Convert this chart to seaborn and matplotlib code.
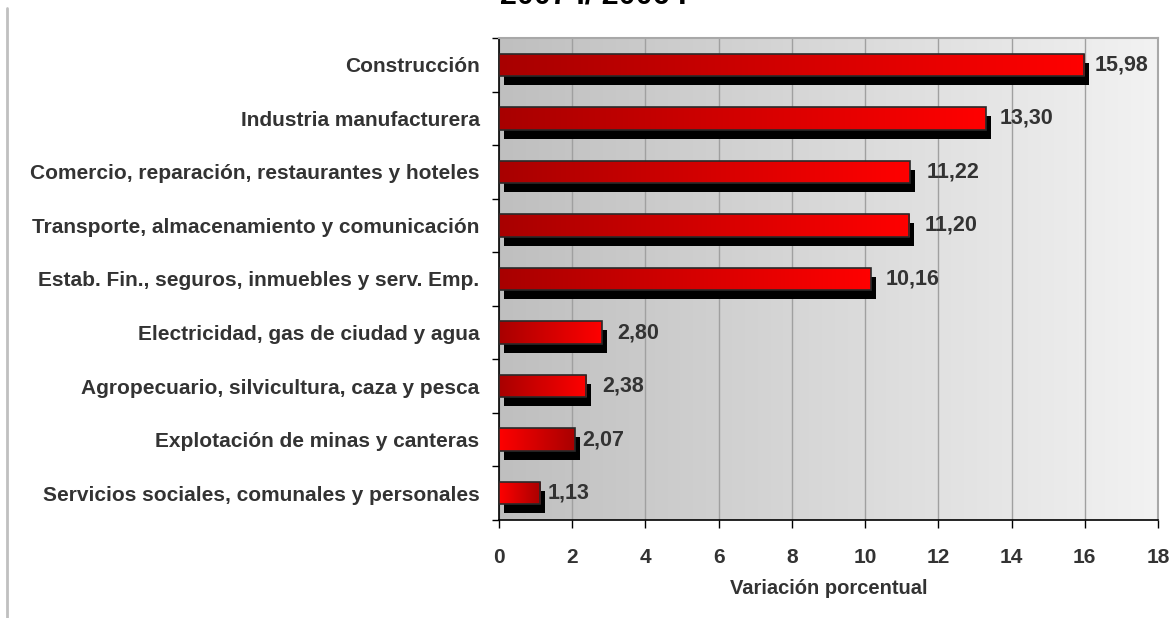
import numpy as np
import pandas as pd
import matplotlib
matplotlib.use("Agg")
import matplotlib.pyplot as plt
import seaborn as sns
from matplotlib.transforms import ScaledTranslation
from matplotlib.colors import LinearSegmentedColormap
from matplotlib.lines import Line2D

# ---- data ----
categories = [
    "Construcción",
    "Industria manufacturera",
    "Comercio, reparación, restaurantes y hoteles",
    "Transporte, almacenamiento y comunicación",
    "Estab. Fin., seguros, inmuebles y serv. Emp.",
    "Electricidad, gas de ciudad y agua",
    "Agropecuario, silvicultura, caza y pesca",
    "Explotación de minas y canteras",
    "Servicios sociales, comunales y personales",
]
values = [15.98, 13.30, 11.22, 11.20, 10.16, 2.80, 2.38, 2.07, 1.13]
value_labels = ["15,98", "13,30", "11,22", "11,20", "10,16", "2,80", "2,38", "2,07", "1,13"]
xticks = [0, 2, 4, 6, 8, 10, 12, 14, 16, 18]
title_text = "2007 I/ 2006 I"
xlabel_text = "Variación porcentual"

# ---- style ----
reverse_gradient = [False, False, False, False, False, False, False, True, True]
label_pad_px = [11, 14, 17, 16, 15, 16, 16, 7, 7]

sns.set_theme(style="white")
plt.rcParams['font.family'] = ['Liberation Sans', 'DejaVu Sans']

df = pd.DataFrame({"cat": categories, "val": values})

W, H = 1175, 618
fig = plt.figure(figsize=(W / 100, H / 100), dpi=100)
left, right, top, bottom = 499 / W, 1158 / W, 1 - 38 / H, 1 - 520 / H
ax = fig.add_axes([left, bottom, right - left, top - bottom])

# background gradient
bg_cmap = LinearSegmentedColormap.from_list("bg", ["#bfbfbf", "#f2f2f2"])
ax.imshow(np.linspace(0, 1, 256).reshape(1, -1), cmap=bg_cmap, aspect="auto",
          extent=[0, 18, len(categories) - 0.5, -0.5], zorder=0)

# shadow bars
n0 = len(ax.patches)
sns.barplot(data=df, x="val", y="cat", orient="h", width=0.42, color="black",
            saturation=1, ax=ax, zorder=2)
shadow = ax.patches[n0:]
off = ScaledTranslation(5 / 100, -9 / 100, fig.dpi_scale_trans)
for p in shadow:
    p.set_facecolor("black")
    p.set_edgecolor("black")
    p.set_linewidth(0)
    p.set_transform(ax.transData + off)

# main bars
n1 = len(ax.patches)
sns.barplot(data=df, x="val", y="cat", orient="h", width=0.42, color="red",
            saturation=1, ax=ax, zorder=3)
bars = ax.patches[n1:]
bar_cmap = LinearSegmentedColormap.from_list("bar", ["#a80000", "#ff0000"])
grad = np.linspace(0, 1, 256).reshape(1, -1)
for p, rev in zip(bars, reverse_gradient):
    x0, y0 = p.get_x(), p.get_y()
    w, h = p.get_width(), p.get_height()
    g = grad[:, ::-1] if rev else grad
    im = ax.imshow(g, cmap=bar_cmap, aspect="auto",
                   extent=[x0, x0 + w, y0 + h, y0], zorder=3.5)
    im.set_clip_path(p)
    p.set_facecolor("none")
    p.set_edgecolor("#2a2a2a")
    p.set_linewidth(1.2)
    p.set_zorder(4)

ax.set_xlim(0, 18)
ax.set_ylim(len(categories) - 0.5, -0.5)

# value labels
for i, (v, lbl, pad) in enumerate(zip(values, value_labels, label_pad_px)):
    ax.annotate(lbl, xy=(v, i), xytext=(pad * 0.72, 0), textcoords="offset points",
                ha="left", va="center", fontsize=15.5, fontweight="bold",
                color="#333333", zorder=5)

# grid and spines
ax.set_axisbelow(True)
ax.set_xticks(xticks)
ax.xaxis.grid(True, color="#a0a0a0", linewidth=1)
ax.yaxis.grid(False)
for s in ["left", "bottom"]:
    ax.spines[s].set_color("black")
    ax.spines[s].set_linewidth(1.2)
for s in ["top", "right"]:
    ax.spines[s].set_color("#a8a8a8")
    ax.spines[s].set_linewidth(1.5)

ax.tick_params(axis="x", which="major", direction="out", length=6, width=1,
               color="black", pad=14, labelsize=15, labelcolor="#333333", bottom=True)
ax.set_yticks(np.arange(len(categories) + 1) - 0.5, minor=True)
ax.tick_params(axis="y", which="major", length=0, pad=14, labelsize=15,
               labelcolor="#333333", left=True)
ax.tick_params(axis="y", which="minor", direction="out", length=5, width=1,
               color="black", left=True)
for t in ax.get_xticklabels() + ax.get_yticklabels():
    t.set_fontweight("bold")

ax.set_ylabel("")
ax.set_xlabel(xlabel_text, fontsize=14.5, fontweight="bold", color="#333333", labelpad=9)

# title (partially cut at top, as in the reference) and left rule
fig.text(593 / W, 1 - 3 / H, title_text, ha="center", va="baseline",
         fontsize=22, fontweight="bold", color="black")
fig.add_artist(Line2D([7 / W, 7 / W], [0, 1 - 8 / H], transform=fig.transFigure,
                      color="#c0c0c0", linewidth=2))

fig.savefig("out.png", dpi=100)
